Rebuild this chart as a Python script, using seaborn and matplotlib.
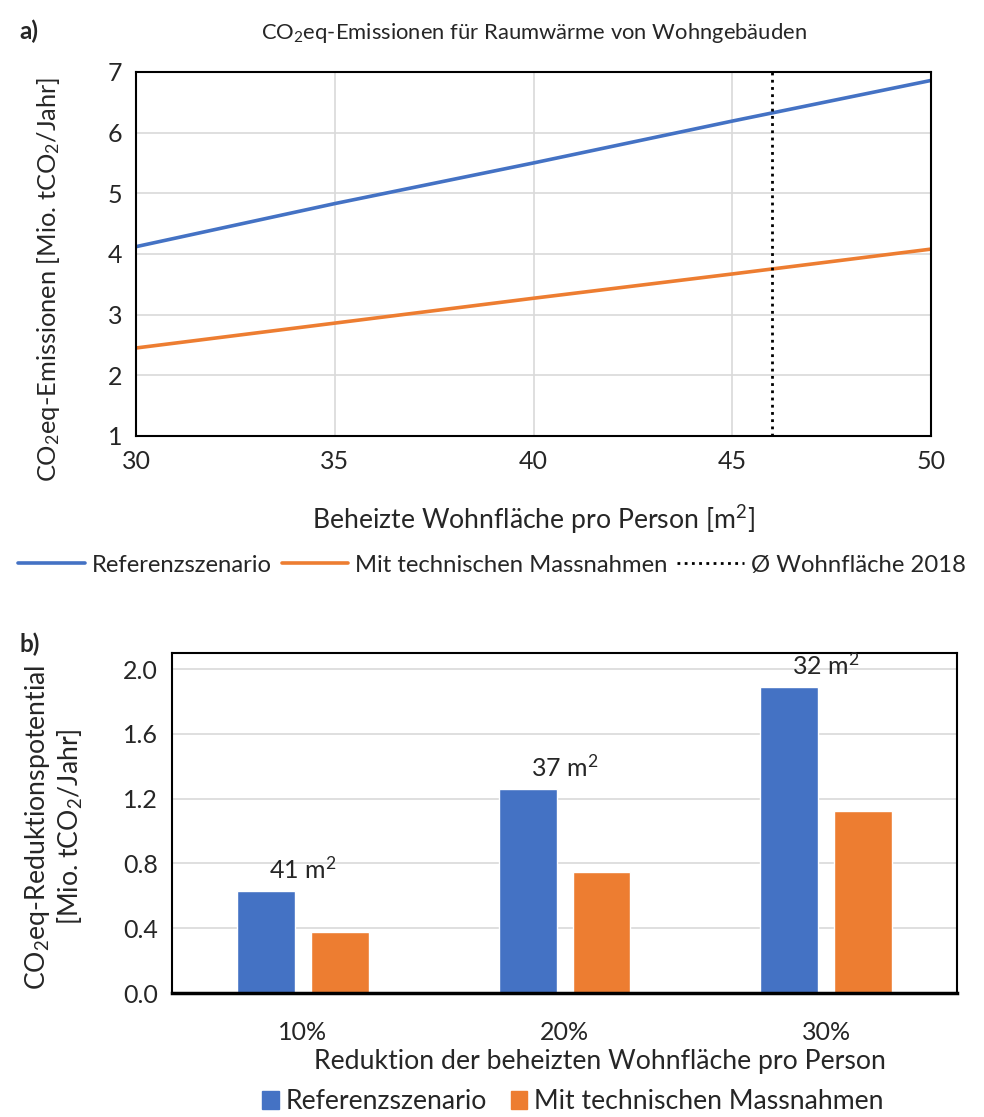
import matplotlib
matplotlib.use("Agg")
import matplotlib.pyplot as plt
import numpy as np
import pandas as pd
import seaborn as sns
from matplotlib.lines import Line2D
from matplotlib.patches import Patch

# data
flaeche = [30, 35, 40, 45, 50]
referenz = [4.12, 4.83, 5.50, 6.19, 6.86]
technisch = [2.45, 2.86, 3.27, 3.67, 4.08]
flaeche_2018 = 46

reduktion = ["10%", "20%", "30%"]
pot_referenz = [0.63, 1.26, 1.89]
pot_technisch = [0.375, 0.75, 1.125]
rest_flaeche = ["41 m$^2$", "37 m$^2$", "32 m$^2$"]

serien = ["Referenzszenario", "Mit technischen Massnahmen"]
farben = ["#4472C4", "#ED7D31"]

sns.set_style("white")
plt.rcParams['font.family'] = ['Lato', 'DejaVu Sans']
plt.rcParams['mathtext.default'] = 'regular'
fs = 17.5
fs_label = 19.2
fs_tick = 18

fig = plt.figure(figsize=(9.84, 11.17), dpi=100)

# a) line chart
ax1 = fig.add_axes([0.1382, 0.6097, 0.808, 0.3259])
df_lines = pd.DataFrame({
    "x": flaeche * 2,
    "y": referenz + technisch,
    "serie": [serien[0]] * len(flaeche) + [serien[1]] * len(flaeche),
})
sns.lineplot(data=df_lines, x="x", y="y", hue="serie", palette=farben,
             linewidth=2.6, ax=ax1, legend=False)
ax1.axvline(flaeche_2018, color="black", linestyle=(0, (1, 1.6)), linewidth=2)
ax1.set_xlim(30, 50)
ax1.set_ylim(1, 7)
ax1.set_xticks([30, 35, 40, 45, 50])
ax1.set_yticks(range(1, 8))
ax1.grid(True, color="#d9d9d9", linewidth=1.2)
for s in ax1.spines.values():
    s.set_color("black")
    s.set_linewidth(1.5)
ax1.tick_params(labelsize=fs_tick, length=0, pad=10)
ax1.set_xlabel("Beheizte Wohnfläche pro Person [m$^2$]", fontsize=fs_label, va="center")
ax1.xaxis.set_label_coords(0.5, -0.231)
ax1.set_ylabel("CO$_2$eq-Emissionen [Mio. tCO$_2$/Jahr]", fontsize=18.3, va="center")
ax1.yaxis.set_label_coords(-0.11, 0.431)
ax1.set_title("CO$_2$eq-Emissionen für Raumwärme von Wohngebäuden", fontsize=15.8, pad=24)
fig.text(0.02, 0.972, "a)", fontsize=fs, fontweight="bold", va="center")

handles = [Line2D([], [], color=farben[0], linewidth=2.6),
           Line2D([], [], color=farben[1], linewidth=2.6),
           Line2D([], [], color="black", linestyle=(0, (1, 1.6)), linewidth=2)]
fig.legend(handles, serien + ["Ø Wohnfläche 2018"], loc="center",
           bbox_to_anchor=(0.5, 0.494), ncol=3, frameon=False, fontsize=17.2,
           handlelength=2.8, handletextpad=0.28, columnspacing=0.4,
           borderpad=0, borderaxespad=0)

# b) bar chart
ax2 = fig.add_axes([0.1748, 0.1110, 0.7978, 0.3044])
df_bars = pd.DataFrame({
    "reduktion": reduktion * 2,
    "wert": pot_referenz + pot_technisch,
    "serie": [serien[0]] * 3 + [serien[1]] * 3,
})
sns.barplot(data=df_bars, x="reduktion", y="wert", hue="serie", palette=farben,
            width=0.565, gap=0.216, saturation=1, ax=ax2, legend=False)
ax2.set_ylim(0, 2.1)
ax2.set_yticks(np.arange(0, 2.01, 0.4))
ax2.yaxis.set_major_formatter(matplotlib.ticker.FormatStrFormatter("%.1f"))
ax2.grid(True, axis="y", color="#d9d9d9", linewidth=1.2)
ax2.set_axisbelow(True)
for s in ax2.spines.values():
    s.set_color("black")
    s.set_linewidth(1.5)
ax2.spines["bottom"].set_linewidth(2.5)
ax2.tick_params(labelsize=fs_tick, length=0, pad=10)
ax2.tick_params(axis="x", pad=20)
for i, lab in enumerate(rest_flaeche):
    ax2.annotate(lab, (i, pot_referenz[i]), xytext=(0, 6), textcoords="offset points",
                 ha="center", va="bottom", fontsize=fs_tick)
ax2.set_xlabel("Reduktion der beheizten Wohnfläche pro Person", fontsize=fs_label, va="center")
ax2.xaxis.set_label_coords(0.545, -0.2)
ax2.set_ylabel("CO$_2$eq-Reduktionspotential\n[Mio. tCO$_2$/Jahr]", fontsize=fs_label,
               va="center", linespacing=1.15)
ax2.yaxis.set_label_coords(-0.15, 0.488)
fig.text(0.02, 0.423, "b)", fontsize=fs, fontweight="bold", va="center")

fig.legend([Patch(color=farben[0]), Patch(color=farben[1])], serien, loc="center",
           bbox_to_anchor=(0.582, 0.0135), ncol=2, frameon=False, fontsize=19.2,
           handlelength=0.63, handleheight=0.63, handletextpad=0.25, columnspacing=0.9,
           borderpad=0, borderaxespad=0)

fig.savefig("out.png", dpi=100)
